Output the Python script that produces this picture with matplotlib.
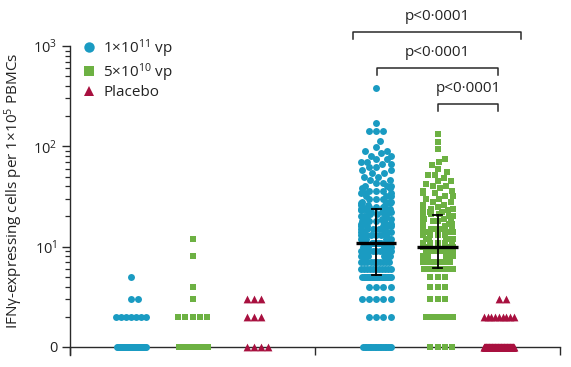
import numpy as np
import matplotlib
matplotlib.use("Agg")
import matplotlib.pyplot as plt
from matplotlib.lines import Line2D
from matplotlib.ticker import FixedLocator, FixedFormatter, NullFormatter

plt.rcParams["font.family"] = ["Open Sans", "DejaVu Sans"]
plt.rcParams["mathtext.fontset"] = "custom"
plt.rcParams["mathtext.rm"] = "Open Sans"
plt.rcParams["mathtext.it"] = "Open Sans:italic"
plt.rcParams["mathtext.bf"] = "Open Sans:bold"

BLUE = "#1a9bc2"
GREEN = "#6db143"
RED = "#a8103f"
AXIS = "#2a2a2a"

# value -> number of participants (0 sits on the bottom line)
day0_high_vals = [0, 2, 3, 5]
day0_high_counts = [30, 7, 2, 1]
day0_low_vals = [0, 2, 3, 4, 8, 12]
day0_low_counts = [30, 5, 1, 1, 1, 1]
day0_placebo_vals = [0, 2, 3]
day0_placebo_counts = [4, 3, 3]

day28_high_vals = [0, 2, 3, 4, 5, 6, 7, 8, 9, 10, 11, 12, 13, 14, 15, 16, 17, 18,
                   19, 20, 21, 22, 23, 24, 25, 26, 27, 28, 30, 32, 34, 36, 38, 40,
                   43, 46, 50, 54, 58, 62, 66, 70, 75, 80, 85, 90, 98, 112, 141,
                   170, 380]
day28_high_counts = [18, 4, 5, 4, 26, 11, 10, 10, 9, 9, 9, 6, 6, 5, 5, 5, 4, 4,
                     4, 4, 3, 4, 3, 4, 3, 3, 3, 3, 3, 3, 3, 3, 2, 3,
                     2, 2, 2, 2, 2, 2, 2, 2, 2, 2, 1, 2, 1, 1, 3,
                     1, 1]
day28_low_vals = [0, 2, 3, 4, 5, 6, 7, 8, 9, 10, 11, 12, 13, 14, 15, 16, 17, 18,
                  19, 20, 21, 22, 23, 24, 25, 26, 28, 30, 32, 34, 36, 38, 40, 42,
                  45, 48, 52, 55, 60, 65, 70, 75, 93, 110, 132]
day28_low_counts = [4, 8, 3, 3, 3, 16, 10, 9, 8, 9, 5, 5, 4, 4, 4, 3, 3, 3,
                    3, 3, 2, 3, 2, 2, 2, 2, 2, 2, 2, 2, 2, 1, 2, 1,
                    2, 1, 2, 1, 1, 1, 1, 1, 1, 1, 1]
day28_placebo_vals = [0, 2, 3]
day28_placebo_counts = [100, 9, 2]

# median and IQR drawn for the vaccine groups at day 28
summary_pos = [4, 5]
summary_median = [11, 10]
summary_q1 = [5.2, 6.1]
summary_q3 = [24, 20.5]

# significance brackets
bracket_x1 = [3.62, 4.01, 5.01]
bracket_x2 = [6.36, 5.99, 5.99]
bracket_y = [1380, 605, 265]
bracket_text = ["p<0·0001", "p<0·0001", "p<0·0001"]

groups = [
    (0, day0_high_vals, day0_high_counts, BLUE, "o"),
    (1, day0_low_vals, day0_low_counts, GREEN, "s"),
    (2, day0_placebo_vals, day0_placebo_counts, RED, "^"),
    (4, day28_high_vals, day28_high_counts, BLUE, "o"),
    (5, day28_low_vals, day28_low_counts, GREEN, "s"),
    (6, day28_placebo_vals, day28_placebo_counts, RED, "^"),
]


def beeswarm(ypx, radius, halfwidth):
    # seaborn-style swarm: each point goes as close to the midline as it fits
    order = np.argsort(ypx, kind="stable")
    px_list, py_list = [], []
    xs = np.zeros(len(ypx))
    diam2 = (2 * radius) ** 2
    for idx in order:
        y = ypx[idx]
        x = 0.0
        if px_list:
            pxa = np.array(px_list)
            pya = np.array(py_list)
            near = np.abs(pya - y) < 2 * radius
            nx, ny = pxa[near], pya[near]
            if len(nx):
                dx = np.sqrt(np.maximum(diam2 - (y - ny) ** 2, 0)) * 1.05
                cands = np.concatenate([[0.0], nx + dx, nx - dx])
                cands = cands[np.argsort(np.abs(cands), kind="stable")]
                for c in cands:
                    if np.all((nx - c) ** 2 + (ny - y) ** 2 >= diam2 * 0.999):
                        x = c
                        break
        px_list.append(x)
        py_list.append(y)
        xs[idx] = x
    # rows that are too wide get squeezed evenly (Prism-like overlap)
    for yv in np.unique(ypx):
        row = ypx == yv
        widest = np.abs(xs[row]).max()
        if widest > halfwidth:
            xs[row] *= halfwidth / widest
    return np.clip(xs, -halfwidth, halfwidth)


fig = plt.figure(figsize=(5.71, 3.67), dpi=100)
ax = fig.add_axes([70 / 571, 12 / 367, 490 / 571, 309 / 367])
ax.set_yscale("log")
ax.set_xlim(-1, 7)
ax.set_ylim(10 ** (-8 / 100.3), 1000)

unit_px = ax.transData.transform((1, 1))[0] - ax.transData.transform((0, 1))[0]
radius_px = 3.4
for pos, vals, counts, color, marker in groups:
    v = np.repeat(np.array(vals, dtype=float), counts)
    v = np.where(v == 0, 1.0, v)
    ypx = ax.transData.transform(np.c_[np.zeros(len(v)), v])[:, 1]
    off = beeswarm(ypx, radius_px, 15.0)
    ms = 5.6 if marker == "^" else (4.8 if marker == "s" else 5.0)
    ax.scatter(pos + off / unit_px, v, s=ms ** 2, marker=marker, color=color,
               linewidths=0, zorder=3, clip_on=False)

for pos, med, q1, q3 in zip(summary_pos, summary_median, summary_q1, summary_q3):
    ax.plot([pos - 0.33, pos + 0.33], [med, med], color="black", lw=2.4, zorder=5,
            solid_capstyle="butt")
    ax.plot([pos, pos], [q1, q3], color="black", lw=1.3, zorder=5)
    for q in (q1, q3):
        ax.plot([pos - 0.075, pos + 0.075], [q, q], color="black", lw=1.3, zorder=5)

for x1, x2, yb, txt in zip(bracket_x1, bracket_x2, bracket_y, bracket_text):
    drop = yb * 10 ** (-7 / 100.3)
    ax.plot([x1, x1, x2, x2], [drop, yb, yb, drop], color=AXIS, lw=1.1,
            clip_on=False, zorder=4)
    ax.text((x1 + x2) / 2, yb * 10 ** (8 / 100.3), txt, ha="center", va="bottom",
            fontsize=11, color="#222222", clip_on=False)

for side in ("top", "right"):
    ax.spines[side].set_visible(False)
ax.spines["bottom"].set_position(("data", 1))
for side in ("left", "bottom"):
    ax.spines[side].set_color(AXIS)
    ax.spines[side].set_linewidth(1.0)

ax.yaxis.set_major_locator(FixedLocator([1, 10, 100, 1000]))
ax.yaxis.set_major_formatter(FixedFormatter(["0", "$10^{1}$", "$10^{2}$", "$10^{3}$"]))
minor = [k * 10 ** d for d in range(3) for k in range(2, 10)]
ax.yaxis.set_minor_locator(FixedLocator(minor))
ax.yaxis.set_minor_formatter(NullFormatter())
ax.tick_params(axis="y", which="major", length=6, width=1.0, color=AXIS,
               labelsize=10.5, labelcolor="#222222", pad=3)
ax.tick_params(axis="y", which="minor", length=3.5, width=0.9, color=AXIS)
ax.set_xticks([-1, 3, 7])
ax.set_xticklabels([])
ax.tick_params(axis="x", length=6, width=1.0, color=AXIS, direction="out")

ax.set_ylabel("IFNγ-expressing cells per 1×10$^{5}$ PBMCs", fontsize=11, color="#222222")
ax.yaxis.set_label_coords(-0.092, 0.53)

handles = [
    Line2D([], [], ls="", marker="o", color=BLUE, markersize=7.5, markeredgewidth=0),
    Line2D([], [], ls="", marker="s", color=GREEN, markersize=7, markeredgewidth=0),
    Line2D([], [], ls="", marker="^", color=RED, markersize=7.5, markeredgewidth=0),
]
labels = ["1×10$^{11}$ vp", "5×10$^{10}$ vp", "Placebo"]
ax.legend(handles, labels, loc="upper left", bbox_to_anchor=(81 / 571, 1 - 37 / 367),
          bbox_transform=fig.transFigure, frameon=False, fontsize=11,
          handlelength=1.0, handletextpad=0.45, labelspacing=0.1,
          borderpad=0, borderaxespad=0, labelcolor="#222222")

fig.savefig("out.png", dpi=100)
